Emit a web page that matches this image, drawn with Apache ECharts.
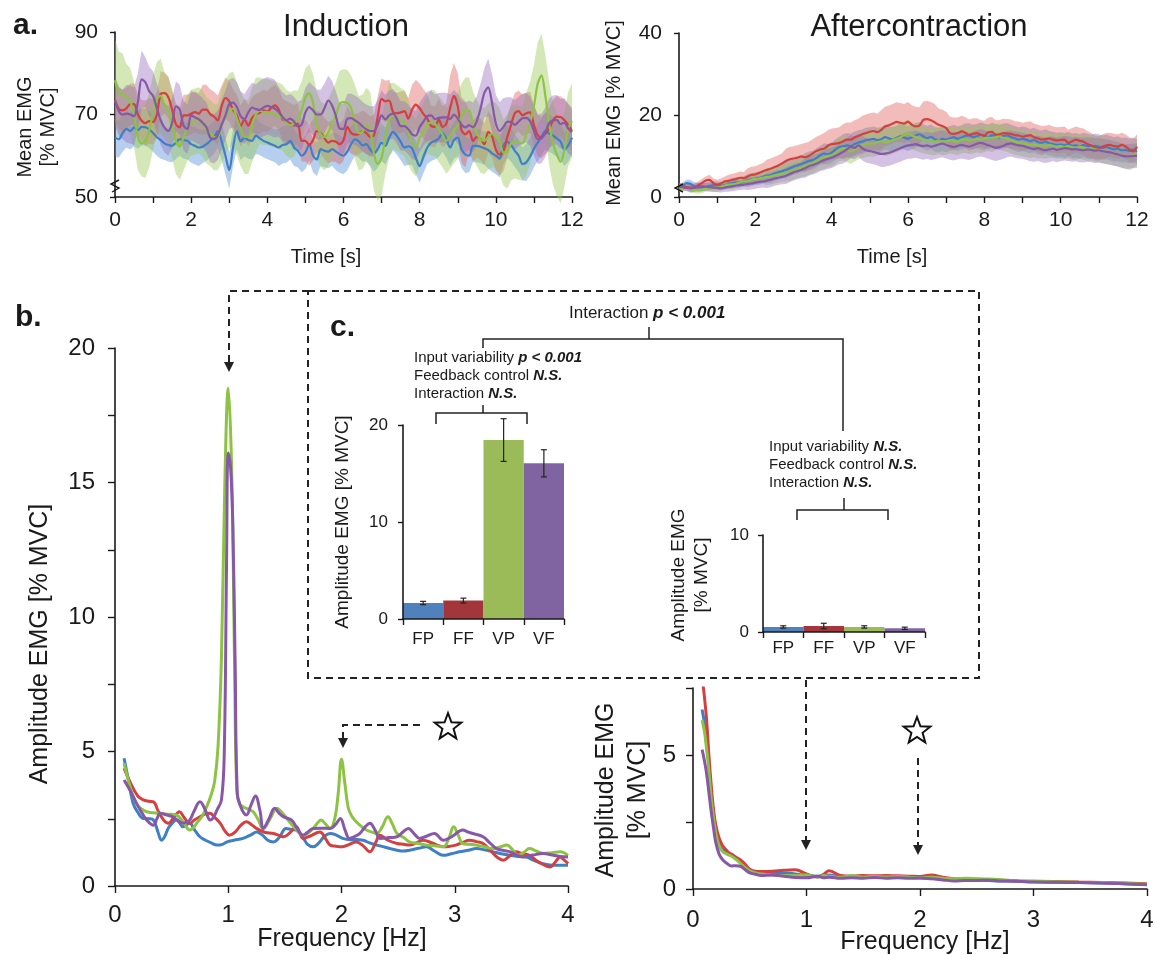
<!DOCTYPE html>
<html>
<head>
<meta charset="utf-8">
<script src="https://cdn.jsdelivr.net/npm/echarts@6/dist/echarts.min.js"></script>
<style>
  html, body { margin: 0; padding: 0; background: #fff; }
  #chart { width: 1155px; height: 955px; }
</style>
</head>
<body>
<div id="chart"></div>
<script>
// ---------- conditions & colours ----------
const conditions = ['FP', 'FF', 'VP', 'VF'];
const lineColors = ['#3f7fc6', '#d43f3f', '#8cc343', '#8757a8'];
const bandColors = ['rgba(80,140,215,0.42)', 'rgba(225,95,90,0.42)', 'rgba(150,200,80,0.42)', 'rgba(150,110,190,0.42)'];
const barColors = ['#4f81bd', '#a3363a', '#9bbb59', '#8064a2'];

// ---------- (a) mean EMG over time, sampled every 0.1 s ----------
const timeS = Array.from({ length: 121 }, (_, i) => Math.round(i) / 10);

const inductionFP = [64.4,64,65.5,66.5,66,66.8,66.2,67,66.9,66.4,65.5,
  64.5,63.8,63,62.6,62.4,63.2,64,63.8,63.6,62.8,
  62.4,62,62.2,62.8,63.6,64.4,66,63.5,60,56.5,
  62,66,63.5,64.4,63.8,63.6,64.9,64.2,63.6,63.2,
  62.8,62.4,62,62.6,62.8,63.6,62,61.2,60,60.8,
  62.8,60,59.1,61.6,61.2,61,61.6,61,60.4,60,
  61,62.8,64,63.5,62.5,62.8,61.5,60.6,61.6,63.2,
  62.4,64.4,65.8,64.8,63.4,62,62.3,61.8,59.5,57.5,
  59.8,62,63.2,63.6,64.2,65.5,64,62,63.8,64.4,
  61.5,60.3,60,62.4,62.4,62.2,61.8,61.4,60.6,60,
  59.3,62.5,63.4,62.6,61.2,60,58,58.4,59.8,61.7,
  63.2,64.6,66,65.4,64.9,64.2,63.4,61.5,62.5,64.4];
const inductionFF = [73.5,71.4,71,71.5,72.5,72.5,70,68.5,67.9,68.4,68.2,
  70,75,75.2,74.2,71.2,67.6,66.9,69.8,69.8,70.2,
  70.6,70.2,71.2,71.2,70.1,69.5,68.6,72,74,73.2,
  71.1,69.8,67.2,68.8,67.3,69.2,70,70.4,71,70.7,
  71.6,72.2,71.2,68.8,68.3,67.8,67.3,67.8,63.6,63.6,
  62.6,63.8,66,65.5,64.2,63.2,63.6,63.4,62.8,63.8,
  67,65.5,65.1,65.3,66,65.5,64.6,65,69.5,73.8,
  73.2,73.4,70.6,70.3,70.5,70.8,69,71.2,72.4,71.5,
  70.1,69,67.2,67,68.8,67,67.8,71.5,74.5,72,
  66.2,65.2,66,63.6,64.6,64,62.8,65.8,64.7,61.5,
  60.3,61.2,64.5,67.5,70.3,70.8,69.8,70.3,70.5,67.5,
  65,64.4,65.4,66.5,68.5,69.5,69.4,68.6,67.5,66];
const inductionVP = [78.3,75.3,74.8,74.3,73.2,70,64.5,63,63.6,66.2,70.5,
  73.8,74.5,72.2,71,67.5,63.5,62.2,64.5,66.8,68,
  68.3,68.6,67.8,66.1,65.5,64.5,64.5,67.3,69.3,71,
  71.4,69,66.5,64.6,64.6,67.5,70,71,70.6,70.6,
  70.3,70,69.7,69.2,68,67.4,67.8,68.8,71,74.2,
  75.2,72.8,67.5,65.2,64.5,65.6,67.8,69.8,72.6,73,
  72.8,71.5,68.1,65.5,65.8,67.5,66.5,60.5,58,59.5,
  64.5,68.6,69.7,69.2,68.5,67.8,65.8,63,62,64.4,
  65.8,67.5,68.1,67.8,66.5,65.2,63.6,64.8,66.2,67.3,
  69.6,71,71,67.6,65.5,63.8,63.6,64.6,65.3,64.7,
  63.5,60.8,61,63,63.5,63.2,63,65.3,68,72,
  77.5,79.5,74.5,67.8,63,60.3,58.5,61.4,66.5,68.5];
const inductionVF = [73.4,70.8,70,70.2,70,69.6,73,78.5,77.8,75.6,74.5,
  71.5,68.6,66.8,66,68,72,71.2,67.3,66.5,69.8,
  69.3,68.8,68,66.9,64.4,64.1,65,67.5,69.8,72.5,
  72.9,71.8,69.6,68.9,70.5,71.7,71.3,71.1,71.7,72.1,
  71.8,71.4,70.6,69.4,68.6,69,68.3,67.1,67.5,70.5,
  71.8,71,70,70,71.5,73.4,72.2,69.6,66.6,66.5,
  69,69.1,68.6,68,67.1,66.4,66,66,67.6,69.8,
  68.8,69.8,70.2,69,67.2,67.2,66.4,65.2,64.9,66.9,
  68.3,69.6,69.8,68.9,69.2,69.3,69.3,68.9,70,69,
  67.5,66.9,67.4,66.9,68.4,71.5,75.3,76.6,72.8,67.8,
  66,67,68.2,68.2,67.5,68.3,69.1,69.2,68.4,66,
  64,64.2,65.7,67.9,68.6,68.7,67.7,68,66.6,65.7];

// spread (SD) of each condition, every 0.5 s
const inductionSdFP = [4.5,4.5,4.5,4,4.5,4,4.5,4.5,4,4.5,4,4,4.5,4,4.5,4.5,4,4.5,4.5,4,4.5,4,4.5,4.5,4];
const inductionSdFF = [5,5,5.5,5,5,6,5,5,5,5,5,5,5,5,5,5,6,5,8,5,5,5,5,5,5];
const inductionSdVP = [10,8,9,8,8,8,9,9,8,8,7,8,8,9,9,8,7,8,8,8,8,9,10,10,9];
const inductionSdVF = [6,7,6,6,6,6,6,6,7,6,6,6,6,6,6,6,6,6,6,6,7,6,6,6,6];

const afterFP = [2.4,2.8,3.4,3.2,2.6,2.4,2.3,2.5,2.7,2.9,2.8,
  2.7,2.9,3.2,3.4,3.6,3.5,3.8,4.1,4.3,4.5,
  4.6,4.9,5.2,5.3,5.7,6,6.3,6.6,7,7.4,
  7.7,8,8.4,8.8,9,9.5,10.2,10.6,10.4,10.8,
  11.6,12.2,12.3,12.6,12.4,12.9,13.3,13.5,13.9,14,
  14.2,13.9,14.1,14.6,14.3,14,14.4,14.8,14.5,14.2,
  14.6,15,15.3,14.8,14.3,14.7,14.1,13.9,14.2,14,
  14.3,14.6,14.2,14.5,14.9,15,14.6,14.8,15.2,14.9,
  14.6,15.1,14.8,14.5,14.9,15,14.6,14.3,14,14.2,
  14,13.6,13.9,13.4,13.2,13.5,13.1,12.9,12.7,12.8,
  12.6,12.9,12.5,12.6,12.3,12.7,12.4,12.2,12.5,12.3,
  12,12.2,11.9,11.6,11.8,11.4,11.5,11.2,11.6,11];
const afterFF = [2.5,2.6,2.4,2.3,2.2,2.8,3.4,4,4.2,3.4,3,
  3.3,3.8,3.9,4.2,4.4,4.7,4.6,5,5.4,5.5,
  5.9,6.3,6.6,6.9,7.3,7.7,8.2,8.8,9.2,9.4,
  9.6,9.9,9.7,10,10.6,11.2,11.6,11.8,12.5,12.9,
  13,13.2,13.6,14,14,14.5,14.9,15.3,15.6,15.9,
  16.1,15.8,16.4,17.2,17.5,17.9,18.3,18.1,17.9,18.4,
  17.6,17.2,17.4,18.8,19,18.7,18.2,17.6,17.3,16.8,
  15.6,15.4,15.6,16,15.7,15.1,15.4,15.6,15.2,15,
  15.8,15.9,15.2,15.3,15.6,15.5,15.4,15.1,15,14.7,
  14.9,15.1,14.6,14.3,14,14.1,14.3,14,13.8,13.9,
  14,13.2,13.6,14,13.7,13.5,12.9,12.6,12,11.9,
  12.3,12.6,12.7,12.4,12.3,12.7,12.3,11.6,11.1,12.3];
const afterVP = [1.8,2,2.2,1.9,1.7,1.6,1.8,2.1,2.3,2.2,2.3,
  2.5,2.8,3,3.1,3.3,3.6,3.8,3.9,4.2,4.4,
  4.5,4.7,4.9,5,5.3,5.5,5.7,6,6.2,6.5,
  6.9,7.2,7.6,8,8.3,8.8,9.2,9.6,10,10.2,
  10.8,11.5,11.9,11.5,11.1,11.6,12.2,12.7,12.9,13.1,
  13,13.4,13.6,13.3,13.5,13.9,14.2,14.6,15.1,15.5,
  15,14.6,14.3,14,13.8,13.6,13.5,13.8,13.5,13.6,
  13.9,13.7,13.5,14,14.1,13.8,13.9,14.2,14,14.3,
  14.5,14.3,14.6,14.7,14.4,14.2,13.8,13.5,13.3,13.1,
  12.9,12.7,12.8,12.5,12.6,12.4,12.7,12.5,12.3,12.4,
  12.2,12.4,12.1,12,12.3,12,11.8,11.9,11.6,11.5,
  11.3,11.1,10.8,10.6,10.5,10.2,9.9,9.6,10.1,10.7];
const afterVF = [2.6,2.4,2.2,2.1,2.3,2.4,2.6,2.5,2.4,2.3,2.2,
  2.1,2.3,2.5,2.6,2.8,2.9,3,3.2,3.3,3.5,
  3.7,3.8,4,4.2,4.5,4.7,4.9,5.2,5.6,6,
  6.3,6.6,7,7.5,7.8,8.1,8.6,9,9.3,9.6,
  10,10.5,11,11.6,12.3,12,12.6,11.9,11.4,11.2,
  11,10.7,10.5,10.6,10.8,11.1,11.5,11.9,12.3,12.6,
  12.7,12.9,12.6,12.4,12.6,12.3,12.5,12.8,13,12.7,
  12.4,12.2,12.5,12.7,12.5,12.3,12.6,13,13.2,13,
  12.6,12.3,12,12.2,12.5,12.9,13.1,12.8,12.6,12.5,
  12.2,11.9,11.7,11.9,11.6,11.4,11.6,11.8,11.5,11.7,
  11.9,11.8,11.6,11.7,11.5,11.4,11.6,11.5,11.3,11.4,
  11.2,11,10.9,10.6,10.4,10.1,9.9,9.9,10,10.1];

const afterSdFP = [0.8,1,1,1.2,1.5,1.8,2,2.3,2.5,3,3,3,3,3,3,3,3,3,3,3,3,3,3,3,3];
const afterSdFF = [0.8,1,1.2,1.5,2,2.5,3,3.5,3.8,4.2,4.5,4.8,4.8,4.5,4,3.8,3.6,3.5,3.4,3.3,3.2,3.2,3,3,3];
const afterSdVP = [0.6,0.8,1,1.2,1.5,2,2.3,2.6,2.8,3,3.2,3.3,3.3,3.3,3.3,3.3,3.3,3.2,3.2,3.1,3,3,3,3,3];
const afterSdVF = [0.8,1,1,1.2,1.5,1.8,2,2.3,2.5,2.8,3,3.2,3.3,3.3,3.3,3.3,3.3,3.2,3.2,3.1,3,3,3,3,3];

// ---------- (b) amplitude spectra, [frequency Hz, amplitude % MVC] ----------
const spectrumInductionFP = [[0.08,4.75],[0.12,3.9],[0.16,3.07],[0.2,2.75],[0.25,2.51],[0.3,2.5],[0.34,2.45],[0.38,2.0],[0.41,1.7],[0.44,1.85],[0.47,2.15],[0.51,2.35],[0.54,2.45],[0.57,2.35],[0.6,2.2],[0.66,2.33],[0.7,2.1],[0.75,1.83],[0.8,1.7],[0.85,1.6],[0.9,1.52],[0.95,1.55],[0.99,1.64],[1.05,1.7],[1.13,1.77],[1.2,1.9],[1.25,2.01],[1.3,1.9],[1.35,1.7],[1.4,1.64],[1.45,1.8],[1.51,2.14],[1.56,2.1],[1.6,2.08],[1.66,1.8],[1.7,1.55],[1.75,1.46],[1.8,1.6],[1.85,1.85],[1.9,1.95],[1.95,1.9],[2.01,1.77],[2.08,1.72],[2.13,1.73],[2.19,1.7],[2.25,1.6],[2.31,1.52],[2.38,1.45],[2.44,1.38],[2.49,1.33],[2.55,1.3],[2.6,1.33],[2.68,1.4],[2.75,1.46],[2.82,1.3],[2.9,1.14],[2.97,1.2],[3.04,1.27],[3.12,1.33],[3.19,1.39],[3.26,1.35],[3.34,1.27],[3.41,1.2],[3.49,1.14],[3.56,1.1],[3.63,1.08],[3.7,0.95],[3.78,0.83],[3.84,0.78],[3.9,0.77],[4.0,0.77]];
const spectrumInductionFF = [[0.08,4.38],[0.14,3.8],[0.2,3.35],[0.25,3.2],[0.3,3.15],[0.34,3.13],[0.38,2.8],[0.43,2.45],[0.47,2.33],[0.52,2.55],[0.57,2.76],[0.61,2.55],[0.66,2.33],[0.7,2.45],[0.75,2.57],[0.8,2.68],[0.84,2.7],[0.88,2.55],[0.93,2.33],[0.97,2.05],[1.01,1.89],[1.06,2.0],[1.11,2.25],[1.16,2.39],[1.2,2.3],[1.25,2.14],[1.32,2.0],[1.4,1.95],[1.45,1.88],[1.49,1.83],[1.55,2.0],[1.6,2.2],[1.63,2.0],[1.66,1.77],[1.72,1.85],[1.81,2.01],[1.86,1.75],[1.9,1.52],[1.95,1.48],[2.01,1.46],[2.07,1.55],[2.13,1.64],[2.19,1.5],[2.25,1.27],[2.3,1.6],[2.34,1.89],[2.41,1.7],[2.49,1.58],[2.55,1.55],[2.6,1.52],[2.66,1.6],[2.72,1.7],[2.8,1.6],[2.9,1.46],[2.96,1.48],[3.01,1.52],[3.07,1.62],[3.13,1.7],[3.19,1.65],[3.25,1.58],[3.32,1.3],[3.38,1.05],[3.43,0.96],[3.48,1.1],[3.54,1.27],[3.6,1.2],[3.66,1.14],[3.72,0.95],[3.78,0.8],[3.84,0.71],[3.89,0.9],[3.93,1.08],[3.97,0.95],[4.0,0.83]];
const spectrumInductionVP = [[0.08,4.56],[0.12,3.9],[0.16,3.32],[0.2,3.0],[0.24,2.85],[0.28,2.76],[0.34,2.72],[0.4,2.7],[0.47,2.67],[0.54,2.64],[0.6,2.4],[0.66,2.08],[0.7,2.2],[0.72,2.33],[0.77,2.6],[0.81,2.95],[0.85,3.4],[0.88,3.9],[0.91,5.2],[0.94,8.5],[0.97,15],[1.0,18.5],[1.03,15.5],[1.055,8.5],[1.075,3.6],[1.1,3.07],[1.13,2.95],[1.18,2.85],[1.22,2.76],[1.26,2.5],[1.31,2.14],[1.37,2.5],[1.43,2.89],[1.48,2.7],[1.54,2.39],[1.6,2.1],[1.66,1.89],[1.7,1.95],[1.75,2.14],[1.79,2.35],[1.82,2.45],[1.86,2.3],[1.9,2.14],[1.94,2.5],[1.97,3.4],[2.0,4.71],[2.03,3.8],[2.06,2.9],[2.09,2.6],[2.13,2.39],[2.18,2.2],[2.22,2.08],[2.27,2.0],[2.31,1.95],[2.36,2.2],[2.41,2.57],[2.45,2.3],[2.49,1.95],[2.55,1.8],[2.6,1.64],[2.68,1.58],[2.75,1.52],[2.82,1.5],[2.9,1.46],[2.95,1.8],[2.99,2.2],[3.03,1.9],[3.07,1.58],[3.13,1.55],[3.19,1.52],[3.26,1.46],[3.34,1.39],[3.4,1.45],[3.46,1.52],[3.51,1.35],[3.56,1.14],[3.61,1.25],[3.66,1.39],[3.72,1.3],[3.78,1.21],[3.86,1.24],[3.93,1.27],[4.0,1.14]];
const spectrumInductionVF = [[0.08,3.94],[0.14,3.5],[0.19,3.07],[0.24,2.7],[0.28,2.45],[0.34,2.26],[0.37,2.5],[0.4,2.7],[0.45,2.65],[0.51,2.57],[0.55,2.45],[0.6,2.33],[0.63,2.38],[0.66,2.45],[0.7,2.8],[0.75,3.13],[0.8,2.8],[0.84,2.45],[0.87,2.55],[0.9,2.82],[0.94,3.2],[0.965,5],[0.985,12],[1.0,16.1],[1.02,15.6],[1.04,13.5],[1.06,8.5],[1.08,3.4],[1.11,2.95],[1.14,2.7],[1.16,2.64],[1.2,3.0],[1.24,3.35],[1.28,2.8],[1.31,2.14],[1.36,2.5],[1.41,2.89],[1.45,2.7],[1.49,2.57],[1.56,2.45],[1.6,2.2],[1.66,1.89],[1.7,2.0],[1.75,2.14],[1.82,2.15],[1.9,2.14],[1.95,2.3],[1.99,2.51],[2.03,2.1],[2.07,1.77],[2.12,1.85],[2.16,1.95],[2.21,2.2],[2.25,2.33],[2.3,2.05],[2.34,1.77],[2.42,1.8],[2.49,1.83],[2.54,2.0],[2.59,2.14],[2.64,1.95],[2.69,1.77],[2.75,1.85],[2.82,1.95],[2.9,1.7],[2.98,1.85],[3.07,2.08],[3.12,2.0],[3.16,1.95],[3.25,1.83],[3.31,1.6],[3.37,1.39],[3.43,1.32],[3.49,1.27],[3.55,1.15],[3.6,1.08],[3.69,1.15],[3.78,1.21],[3.86,1.15],[3.93,1.1],[4.0,1.08]];

const freqAfter = [0.08,0.1,0.12,0.14,0.16,0.18,0.2,0.23,0.26,0.3,0.34,0.38,0.42,0.46,0.5,0.55,0.6,0.7,0.8,0.9,1.0,1.1,1.15,1.2,1.3,1.4,1.5,1.6,1.7,1.8,1.9,2.0,2.1,2.2,2.3,2.4,2.5,2.6,2.7,2.8,2.9,3.0,3.2,3.4,3.6,3.8,4.0];
const spectrumAfterFP = [6.7,6.2,5.4,4.6,3.6,2.8,2.2,1.65,1.45,1.35,1.3,1.15,1.0,0.85,0.7,0.62,0.6,0.58,0.6,0.56,0.5,0.48,0.5,0.52,0.46,0.48,0.44,0.46,0.45,0.44,0.43,0.42,0.4,0.38,0.36,0.34,0.33,0.32,0.3,0.3,0.28,0.27,0.25,0.24,0.22,0.2,0.17];
const spectrumAfterFF = [7.9,7.2,6.3,5.0,3.9,3.0,2.4,1.9,1.62,1.42,1.28,1.18,1.08,0.92,0.74,0.66,0.65,0.66,0.7,0.72,0.56,0.45,0.55,0.68,0.5,0.48,0.5,0.49,0.5,0.49,0.48,0.47,0.52,0.44,0.38,0.36,0.36,0.35,0.33,0.31,0.29,0.29,0.28,0.26,0.24,0.22,0.2];
const spectrumAfterVP = [6.3,5.9,5.2,4.4,3.4,2.7,2.1,1.6,1.4,1.3,1.22,1.1,0.95,0.8,0.68,0.6,0.56,0.52,0.5,0.5,0.52,0.45,0.5,0.48,0.44,0.5,0.44,0.47,0.45,0.47,0.44,0.42,0.44,0.4,0.38,0.4,0.38,0.37,0.35,0.32,0.3,0.29,0.27,0.25,0.24,0.21,0.18];
const spectrumAfterVF = [5.2,4.8,4.3,3.6,2.9,2.3,1.75,1.3,1.1,0.95,0.86,0.87,0.84,0.72,0.6,0.55,0.5,0.52,0.48,0.43,0.42,0.48,0.42,0.44,0.4,0.42,0.4,0.43,0.4,0.42,0.4,0.41,0.38,0.34,0.3,0.32,0.32,0.33,0.3,0.3,0.28,0.26,0.25,0.24,0.22,0.2,0.16];

// ---------- (c) amplitude at 1 Hz, mean and error ----------
const amp1HzInduction = [1.65, 1.9, 18.45, 16.05];
const amp1HzInductionErr = [0.17, 0.25, 2.2, 1.4];
const amp1HzAfter = [0.52, 0.62, 0.52, 0.38];
const amp1HzAfterErr = [0.12, 0.28, 0.12, 0.12];

// ---------- helpers ----------
const FONT = '"Liberation Sans", Arial, Helvetica, sans-serif';
const INK = '#1a1a1a';

function valueAxis(gridIndex, min, max, interval, opts) {
  return Object.assign({
    type: 'value', gridIndex, min, max, interval,
    axisLine: { show: true, onZero: false, lineStyle: { color: INK, width: 1.6 } },
    axisTick: { show: true, inside: false, length: 6, lineStyle: { color: INK, width: 1.4 } },
    splitLine: { show: false },
    axisLabel: { color: INK, fontFamily: FONT, fontSize: 21, showMinLabel: true, showMaxLabel: true }
  }, opts || {});
}
function every(step) {
  return v => (Math.abs(v / step - Math.round(v / step)) < 1e-6 ? String(v) : '');
}

function bandSeries(axisIndex, times, mean, sd, color) {
  const pts = times.map((t, i) => {
    const s = sd[Math.round(i / 5)];
    return [t, mean[i] - s, mean[i] + s];
  });
  return {
    type: 'custom', xAxisIndex: axisIndex, yAxisIndex: axisIndex, silent: true, z: 1,
    data: pts, encode: { x: 0, y: [1, 2] },
    renderItem(params, api) {
      if (params.dataIndex !== 0) return null;
      const upper = pts.map(p => api.coord([p[0], p[2]]));
      const lower = pts.map(p => api.coord([p[0], p[1]])).reverse();
      return { type: 'polygon', shape: { points: upper.concat(lower) }, style: { fill: color } };
    }
  };
}
function lineSeries(axisIndex, data, color, width, smooth) {
  return {
    type: 'line', xAxisIndex: axisIndex, yAxisIndex: axisIndex, data,
    showSymbol: false, symbol: 'none', smooth, silent: true, z: 3,
    lineStyle: { color, width }
  };
}
function errorSeries(axisIndex, means, errs) {
  return {
    type: 'custom', xAxisIndex: axisIndex, yAxisIndex: axisIndex, silent: true, z: 12,
    data: conditions.map((c, i) => [i, means[i] - errs[i], means[i] + errs[i]]),
    encode: { x: 0, y: [1, 2] },
    renderItem(params, api) {
      const lo = api.coord([api.value(0), api.value(1)]);
      const hi = api.coord([api.value(0), api.value(2)]);
      const st = { stroke: '#222', lineWidth: 1.2 };
      return {
        type: 'group', children: [
          { type: 'line', shape: { x1: lo[0], y1: lo[1], x2: hi[0], y2: hi[1] }, style: st },
          { type: 'line', shape: { x1: lo[0] - 3, y1: lo[1], x2: lo[0] + 3, y2: lo[1] }, style: st },
          { type: 'line', shape: { x1: hi[0] - 3, y1: hi[1], x2: hi[0] + 3, y2: hi[1] }, style: st }
        ]
      };
    }
  };
}
function barSeries(axisIndex, values) {
  return {
    type: 'bar', xAxisIndex: axisIndex, yAxisIndex: axisIndex, silent: true, z: 11,
    barWidth: '100%', barCategoryGap: '0%',
    data: values.map((v, i) => ({ value: v, itemStyle: { color: barColors[i] } }))
  };
}

// ---------- grids ----------
const grids = [
  { left: 115, top: 32, width: 457, height: 165 },   // induction time course
  { left: 679, top: 33, width: 458, height: 164 },   // aftercontraction time course
  { left: 115, top: 348, width: 453, height: 538 },  // induction spectrum
  { left: 693, top: 688, width: 454, height: 201 },  // aftercontraction spectrum
  { left: 403, top: 425, width: 161, height: 194 },  // inset bars, induction
  { left: 763, top: 535, width: 162, height: 97 }    // inset bars, aftercontraction
].map(g => Object.assign({ outerBoundsMode: 'none', containLabel: false }, g));

const catAxis = (gi, margin) => ({
  type: 'category', gridIndex: gi, data: conditions, z: 12,
  axisLine: { show: true, onZero: false, lineStyle: { color: INK, width: 1.6 } },
  axisTick: { show: true, length: 6, alignWithLabel: false, lineStyle: { color: INK, width: 1.4 } },
  axisLabel: { color: INK, fontFamily: FONT, fontSize: 17, margin, interval: 0 },
  splitLine: { show: false }
});

const xAxes = [
  valueAxis(0, 0, 12, 1, { axisLabel: { color: INK, fontFamily: FONT, fontSize: 21, margin: 13, formatter: every(2), showMinLabel: true, showMaxLabel: true } }),
  valueAxis(1, 0, 12, 1, { axisLabel: { color: INK, fontFamily: FONT, fontSize: 21, margin: 13, formatter: every(2), showMinLabel: true, showMaxLabel: true } }),
  valueAxis(2, 0, 4, 1, { axisTick: { show: true, length: 7, lineStyle: { color: INK, width: 1.4 } }, axisLabel: { color: INK, fontFamily: FONT, fontSize: 24, margin: 17, showMinLabel: true, showMaxLabel: true } }),
  valueAxis(3, 0, 4, 1, { axisTick: { show: true, length: 7, lineStyle: { color: INK, width: 1.4 } }, axisLabel: { color: INK, fontFamily: FONT, fontSize: 24, margin: 19, showMinLabel: true, showMaxLabel: true } }),
  catAxis(4, 12),
  catAxis(5, 8)
];
const yAxes = [
  valueAxis(0, 50, 90, 20, { axisTick: { show: true, length: 5, lineStyle: { color: INK, width: 1.4 } }, axisLabel: { color: INK, fontFamily: FONT, fontSize: 21, margin: 17, showMinLabel: true, showMaxLabel: true } }),
  valueAxis(1, 0, 40, 20, { axisTick: { show: true, length: 5, lineStyle: { color: INK, width: 1.4 } }, axisLabel: { color: INK, fontFamily: FONT, fontSize: 21, margin: 17, showMinLabel: true, showMaxLabel: true } }),
  valueAxis(2, 0, 20, 2.5, { axisTick: { show: true, length: 7, lineStyle: { color: INK, width: 1.4 } }, axisLabel: { color: INK, fontFamily: FONT, fontSize: 24, margin: 20, formatter: every(5), showMinLabel: true, showMaxLabel: true } }),
  valueAxis(3, 0, 7.5, 2.5, { axisTick: { show: true, length: 7, lineStyle: { color: INK, width: 1.4 } }, axisLabel: { color: INK, fontFamily: FONT, fontSize: 24, margin: 17, formatter: every(5), showMinLabel: true, showMaxLabel: true } }),
  valueAxis(4, 0, 20, 10, { z: 12, axisTick: { show: true, length: 5, lineStyle: { color: INK, width: 1.4 } }, axisLabel: { color: INK, fontFamily: FONT, fontSize: 17, margin: 15, showMinLabel: true, showMaxLabel: true } }),
  valueAxis(5, 0, 10, 10, { z: 12, axisTick: { show: true, length: 5, lineStyle: { color: INK, width: 1.4 } }, axisLabel: { color: INK, fontFamily: FONT, fontSize: 17, margin: 14, showMinLabel: true, showMaxLabel: true } })
];

// ---------- series ----------
const zipT = arr => timeS.map((t, i) => [t, arr[i]]);
const zipF = arr => freqAfter.map((f, i) => [f, arr[i]]);
const inductionMeans = [inductionFP, inductionFF, inductionVP, inductionVF];
const inductionSds = [inductionSdFP, inductionSdFF, inductionSdVP, inductionSdVF];
const afterMeans = [afterFP, afterFF, afterVP, afterVF];
const afterSds = [afterSdFP, afterSdFF, afterSdVP, afterSdVF];
const spectraInduction = [spectrumInductionFP, spectrumInductionFF, spectrumInductionVP, spectrumInductionVF];
const spectraAfter = [spectrumAfterFP, spectrumAfterFF, spectrumAfterVP, spectrumAfterVF];

const series = [];
conditions.forEach((c, i) => series.push(bandSeries(0, timeS, inductionMeans[i], inductionSds[i], bandColors[i])));
conditions.forEach((c, i) => series.push(lineSeries(0, zipT(inductionMeans[i]), lineColors[i], 2.2, 0.3)));
conditions.forEach((c, i) => series.push(bandSeries(1, timeS, afterMeans[i], afterSds[i], bandColors[i])));
conditions.forEach((c, i) => series.push(lineSeries(1, zipT(afterMeans[i]), lineColors[i], 2.2, 0.2)));
conditions.forEach((c, i) => series.push(lineSeries(2, spectraInduction[i], lineColors[i], 3, 0.4)));
conditions.forEach((c, i) => series.push(lineSeries(3, zipF(spectraAfter[i]), lineColors[i], 3, 0.4)));
series.push(barSeries(4, amp1HzInduction), errorSeries(4, amp1HzInduction, amp1HzInductionErr));
series.push(barSeries(5, amp1HzAfter), errorSeries(5, amp1HzAfter, amp1HzAfterErr));

// ---------- annotations ----------
const dash = { stroke: '#222', lineWidth: 2, lineDash: [7, 5], fill: null };
const solid = { stroke: '#222', lineWidth: 1.5, fill: null };
function txt(x, y, text, size, extra) {
  return Object.assign({
    type: 'text', x, y, z: 30,
    style: Object.assign({ text, fill: INK, fontFamily: FONT, fontSize: size, align: 'center', verticalAlign: 'middle' }, (extra && extra.style) || {})
  }, extra ? { rotation: extra.rotation || 0 } : {});
}
function vtxt(x, y, text, size) { return txt(x, y, text, size, { rotation: Math.PI / 2 }); }
function arrowDown(x, tipY) {
  return { type: 'polygon', z: 30, shape: { points: [[x - 5, tipY - 10], [x + 5, tipY - 10], [x, tipY]] }, style: { fill: '#222' } };
}
function star(cx, cy, R) {
  const pts = [];
  for (let k = 0; k < 10; k++) {
    const a = -Math.PI / 2 + k * Math.PI / 5;
    const r = k % 2 === 0 ? R : R * 0.42;
    pts.push([cx + r * Math.cos(a), cy + r * Math.sin(a)]);
  }
  return { type: 'polygon', z: 30, shape: { points: pts }, style: { fill: '#fff', stroke: '#111', lineWidth: 2 } };
}
function pline(points, style, z) { return { type: 'polyline', z: z || 30, shape: { points }, style }; }
const boldItalic = { fontWeight: 'bold', fontStyle: 'italic', fontFamily: FONT };

const graphics = [
  // panel letters and titles
  txt(13, 26, 'a.', 30, { style: { fontWeight: 'bold', align: 'left' } }),
  txt(346, 27, 'Induction', 31),
  txt(919, 27, 'Aftercontraction', 31),
  vtxt(25, 127, 'Mean EMG', 20),
  vtxt(48, 127, '[% MVC]', 20),
  vtxt(614, 113, 'Mean EMG [% MVC]', 20),
  txt(326, 257, 'Time [s]', 20),
  txt(892, 257, 'Time [s]', 20),
  // axis break marks
  pline([[119, 180], [111, 184], [119, 188], [112, 192]], { stroke: INK, lineWidth: 1.4, fill: null }),
  pline([[683, 184], [675, 188], [683, 192]], { stroke: INK, lineWidth: 1.4, fill: null }),
  txt(15, 318, 'b.', 30, { style: { fontWeight: 'bold', align: 'left' } }),
  vtxt(40, 644, 'Amplitude EMG [% MVC]', 25),
  txt(342, 939, 'Frequency [Hz]', 25),
  vtxt(606, 790, 'Amplitude EMG', 25),
  vtxt(638, 790, '[% MVC]', 25),
  txt(925, 942, 'Frequency [Hz]', 25),
  // inset frame
  { type: 'rect', z: 5, shape: { x: 308, y: 291, width: 671, height: 387 }, style: { fill: '#fff', stroke: '#222', lineWidth: 2, lineDash: [7, 5] } },
  pline([[229, 362], [229, 291], [308, 291]], dash),
  arrowDown(229, 372),
  pline([[420, 725], [343, 725], [343, 738]], dash),
  arrowDown(343, 748),
  star(448, 727, 14),
  pline([[806, 680], [806, 840]], dash),
  arrowDown(806, 850),
  star(917, 731, 14),
  pline([[918, 758], [918, 845]], dash),
  arrowDown(918, 855),
  // inset text
  txt(330, 328, 'c.', 30, { style: { fontWeight: 'bold', align: 'left' } }),
  txt(569, 313, 'Interaction {bi|p < 0.001}', 17, { style: { align: 'left', rich: { bi: Object.assign({ fontSize: 17 }, boldItalic) } } }),
  pline([[649, 327], [649, 339]], solid),
  pline([[483, 348], [483, 339], [843, 339], [843, 431]], solid),
  txt(414, 358, 'Input variability {bi|p < 0.001}', 15, { style: { align: 'left', rich: { bi: Object.assign({ fontSize: 15 }, boldItalic) } } }),
  txt(414, 376, 'Feedback control {bi|N.S.}', 15, { style: { align: 'left', rich: { bi: Object.assign({ fontSize: 15 }, boldItalic) } } }),
  txt(414, 394, 'Interaction {bi|N.S.}', 15, { style: { align: 'left', rich: { bi: Object.assign({ fontSize: 15 }, boldItalic) } } }),
  pline([[483, 405], [483, 413]], solid),
  pline([[436, 424], [436, 413], [527, 413], [527, 424]], solid),
  txt(769, 447, 'Input variability {bi|N.S.}', 15, { style: { align: 'left', rich: { bi: Object.assign({ fontSize: 15 }, boldItalic) } } }),
  txt(769, 465, 'Feedback control {bi|N.S.}', 15, { style: { align: 'left', rich: { bi: Object.assign({ fontSize: 15 }, boldItalic) } } }),
  txt(769, 483, 'Interaction {bi|N.S.}', 15, { style: { align: 'left', rich: { bi: Object.assign({ fontSize: 15 }, boldItalic) } } }),
  pline([[844, 498], [844, 510]], solid),
  pline([[797, 520], [797, 510], [888, 510], [888, 520]], solid),
  vtxt(343, 522, 'Amplitude EMG [% MVC]', 19),
  vtxt(679, 575, 'Amplitude EMG', 19),
  vtxt(702, 575, '[% MVC]', 19)
];

const chart = echarts.init(document.getElementById('chart'), null, { renderer: 'canvas', width: 1155, height: 955 });
chart.setOption({
  backgroundColor: '#ffffff',
  animation: false,
  textStyle: { fontFamily: FONT },
  grid: grids,
  xAxis: xAxes,
  yAxis: yAxes,
  series,
  graphic: { elements: graphics }
});
</script>
</body>
</html>
